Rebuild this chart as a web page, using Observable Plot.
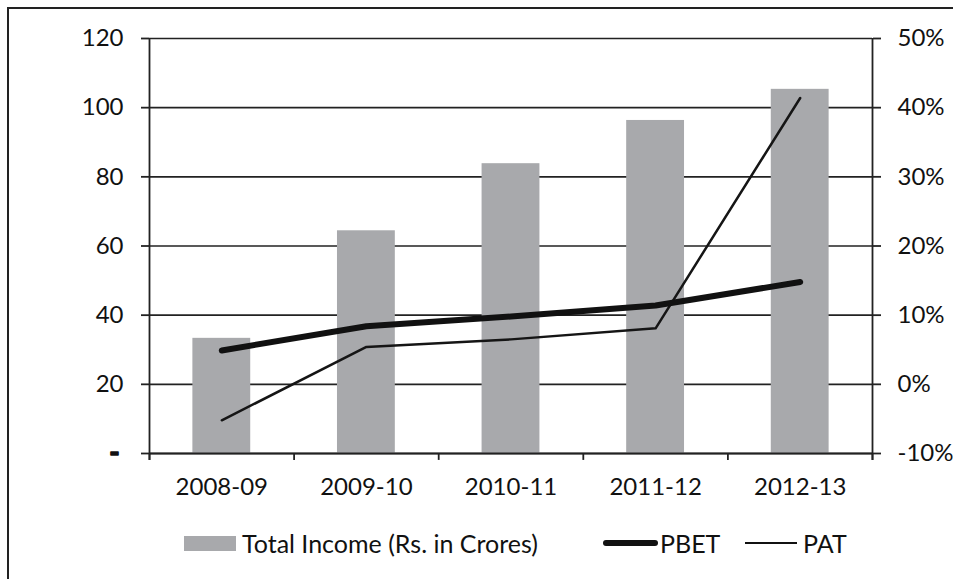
<!DOCTYPE html>
<html>
<head>
<meta charset="utf-8">
<script src="https://cdn.jsdelivr.net/npm/d3@7"></script>
<script src="https://cdn.jsdelivr.net/npm/@observablehq/plot@0.6"></script>
<style>
  html, body { margin: 0; padding: 0; background: #fff; }
  #wrap { position: relative; width: 953px; height: 579px; overflow: hidden; font-family: Lato, "Open Sans", sans-serif; }
  #frame { position: absolute; left: 7px; top: 7px; width: 1000px; height: 1000px; border-left: 2px solid #222; border-top: 2px solid #222; box-sizing: border-box; }
  #chart { position: absolute; left: 0; top: 0; }
  #legend { position: absolute; top: 529px; left: 0; width: 953px; height: 28px; font-size: 25px; color: #111; }
  .item { position: absolute; top: 0; display: flex; align-items: center; height: 28px; }
  .sw { display: inline-block; margin-right: 6px; }
</style>
</head>
<body>
<div id="wrap">
  <div id="frame"></div>
  <div id="chart"></div>
  <div id="legend">
    <div class="item" style="left:184px"><span class="sw" style="width:52px;height:15px;background:#a8a9ac"></span>Total Income (Rs. in Crores)</div>
    <div class="item" style="left:603px"><span class="sw" style="width:55px;height:6px;background:#111;border-radius:3px;margin-right:2px"></span>PBET</div>
    <div class="item" style="left:745px"><span class="sw" style="width:52px;height:2.5px;background:#111"></span>PAT</div>
  </div>
</div>
<script>
const years = ["2008-09", "2009-10", "2010-11", "2011-12", "2012-13"];
const totalIncome = [33.3, 64.4, 83.8, 96.3, 105.3];
const pbet = [4.9, 8.4, 9.8, 11.4, 14.8];
const pat = [-5.2, 5.4, 6.5, 8.1, 41.4];
const leftTicks = [0, 20, 40, 60, 80, 100, 120];
const rightTicks = [-10, 0, 10, 20, 30, 40, 50];

// right axis (-10%..50%) mapped onto the left scale (0..120)
const pctToY = p => (p + 10) * 2;

const idx = years.map((_, i) => i);
const bars = idx.map(i => ({x1: i + 0.3, x2: i + 0.7, v: totalIncome[i]}));
const pbetData = idx.map(i => ({x: i + 0.5, y: pctToY(pbet[i])}));
const patData = idx.map(i => ({x: i + 0.5, y: pctToY(pat[i])}));
const bounds = d3.range(0, years.length + 1);

const ink = "#222";
const chart = Plot.plot({
  width: 953,
  height: 515,
  marginLeft: 149,
  marginRight: 81,
  marginTop: 38,
  marginBottom: 62,
  style: {fontFamily: "Lato, 'Open Sans', sans-serif", fontSize: "23px", color: "#111", background: "transparent", overflow: "visible"},
  x: {domain: [0, years.length], axis: null},
  y: {domain: [0, 120], axis: null},
  marks: [
    Plot.ruleY(leftTicks, {stroke: ink, strokeWidth: 1.6}),
    Plot.rectY(bars, {x1: "x1", x2: "x2", y1: 0, y2: "v", fill: "#a8a9ac"}),
    Plot.ruleY([0], {stroke: ink, strokeWidth: 1.8}),
    Plot.ruleX([0], {stroke: ink, strokeWidth: 1.8, y1: -2, y2: 120}),
    Plot.ruleX([years.length], {stroke: ink, strokeWidth: 1.8, y1: -2, y2: 120}),
    Plot.ruleX(bounds, {stroke: ink, strokeWidth: 1.8, y1: -2, y2: 0}),
    Plot.line(patData, {x: "x", y: "y", stroke: "#151515", strokeWidth: 2.5, strokeLinejoin: "round"}),
    Plot.line(pbetData, {x: "x", y: "y", stroke: "#111", strokeWidth: 6, strokeLinecap: "round", strokeLinejoin: "round"}),
    Plot.axisY({ticks: leftTicks, anchor: "left", tickSize: 8, tickPadding: 18, stroke: ink, strokeWidth: 1.8,
      tickFormat: d => d === 0 ? "" : d, fontSize: 24}),
    Plot.text(["-"], {x: () => 0, y: () => 0, dx: -35, text: d => d, fontWeight: "bold", fontSize: 28, fill: "#111", stroke: "#111", strokeWidth: 1.4, textAnchor: "middle"}),
    Plot.axisY({ticks: rightTicks.map(pctToY), anchor: "right", tickSize: 8, tickPadding: 17, stroke: ink, strokeWidth: 1.8,
      tickFormat: d => (d / 2 - 10) + "%", fontSize: 24}),
    Plot.axisX({ticks: idx.map(i => i + 0.5), anchor: "bottom", tickSize: 0, tickPadding: 24,
      tickFormat: d => years[Math.round(d - 0.5)], fontSize: 24})
  ]
});
document.getElementById("chart").appendChild(chart);
</script>
</body>
</html>
